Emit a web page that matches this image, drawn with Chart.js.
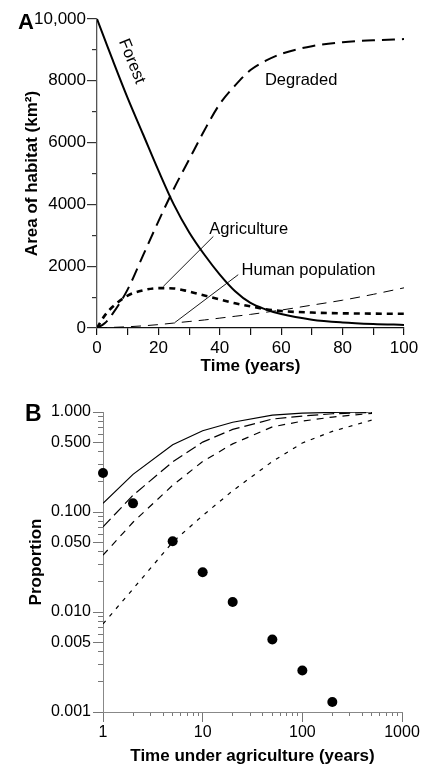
<!DOCTYPE html>
<html lang="en">
<head>
<meta charset="UTF-8">
<title>Habitat loss and agriculture</title>
<script src="https://cdn.jsdelivr.net/npm/chart.js"></script>
<style>
  body { margin: 0; background: #fff; }
  .wrap { position: relative; width: 423px; height: 765px; }
  .panel { position: absolute; left: 0; width: 423px; }
  #boxA { top: 0; height: 380px; }
  #boxB { top: 380px; height: 385px; }
  .tag { position: absolute; font-family: "Liberation Sans", Arial, sans-serif; font-weight: bold; }
</style>
</head>
<body>
<div class="wrap">
  <div class="panel" id="boxA"><canvas id="chartA"></canvas></div>
  <div class="panel" id="boxB"><canvas id="chartB"></canvas></div>
  <div class="tag" style="left:18px;top:11px;font-size:22px;line-height:22px">A</div>
  <div class="tag" style="left:25px;top:402px;font-size:23px;line-height:23px">B</div>
</div>
<script>
// ---- panel A data (years, km2) ----
const years       = [0, 2.5, 5, 10, 15, 20, 25, 30, 35, 40, 45, 50, 55, 60, 70, 80, 90, 100];
const forest      = [10000, 9350, 8700, 7440, 6270, 5100, 4000, 3100, 2370, 1730, 1190, 810, 600, 450, 270, 180, 130, 100];
const degraded    = [0, 150, 450, 1250, 2350, 3450, 4500, 5450, 6400, 7250, 7850, 8350, 8650, 8870, 9120, 9250, 9310, 9350];
const agriculture = [0, 400, 680, 1050, 1220, 1290, 1280, 1180, 1050, 920, 800, 700, 610, 550, 500, 475, 465, 460];
const humans      = [0, 10, 20, 40, 70, 110, 160, 210, 260, 320, 380, 440, 510, 580, 740, 900, 1090, 1300];

const xTicksA  = [0, 10, 20, 30, 40, 50, 60, 70, 80, 90, 100];
const xLabelsA = [0, 20, 40, 60, 80, 100];
const yTicksA  = [0, 2000, 4000, 6000, 8000, 10000];
const yMinorA  = [1000, 3000, 5000, 7000, 9000];

// text notes and leader lines, in data units
const notesA = [
  { text: 'Forest', x: 11.3, y: 8630, angle: 68 },
  { text: 'Degraded', x: 54.7, y: 7870 },
  { text: 'Agriculture', x: 36.6, y: 3050 },
  { text: 'Human population', x: 47.1, y: 1725 }
];
const leadersA = [
  [[21.6, 1346], [37.9, 2964]],
  [[25.4, 181], [46.0, 1725]]
];

// ---- panel B data (proportion vs time under agriculture) ----
const timeB    = [1, 2, 5, 10, 20, 50, 100, 200, 500];
const curve1   = [0.122, 0.238, 0.47, 0.65, 0.79, 0.93, 0.975, 0.99, 1.0];
const curve2   = [0.071, 0.147, 0.317, 0.5, 0.67, 0.85, 0.91, 0.96, 0.99];
const curve3   = [0.037, 0.079, 0.185, 0.32, 0.48, 0.71, 0.81, 0.89, 0.97];
const curve4   = [0.0076, 0.017, 0.05, 0.092, 0.163, 0.32, 0.49, 0.64, 0.83];
const dotTime  = [1, 2, 5, 10, 20, 50, 100, 200];
const dotValue = [0.245, 0.122, 0.051, 0.025, 0.0126, 0.0053, 0.0026, 0.00126];

const xTicksB = [1, 10, 100, 1000];
const xMinorB = [2, 3, 4, 5, 6, 7, 8, 9, 20, 30, 40, 50, 60, 70, 80, 90, 200, 300, 400, 500, 600, 700, 800, 900];
const yTicksB = [1, 0.5, 0.1, 0.05, 0.01, 0.005, 0.001];
const yMinorB = [0.9, 0.8, 0.7, 0.6, 0.4, 0.3, 0.2, 0.09, 0.08, 0.07, 0.06, 0.04, 0.03, 0.02,
                 0.009, 0.008, 0.007, 0.006, 0.004, 0.003, 0.002];

Chart.defaults.font.family = '"Liberation Sans", Arial, Helvetica, sans-serif';
Chart.defaults.color = '#000';
Chart.defaults.animation = false;

function pts(xs, ys) { return xs.map((x, i) => ({ x: x, y: ys[i] })); }
function fixTicks(list) { return s => { s.ticks = list.map(v => ({ value: v })); }; }

const titleFont = { size: 17, weight: 'bold' };

const notesPlugin = {
  id: 'notesA',
  afterDatasetsDraw(chart) {
    const { ctx } = chart;
    const x = chart.scales.x, y = chart.scales.y;
    ctx.save();
    ctx.strokeStyle = '#000';
    ctx.lineWidth = 0.9;
    leadersA.forEach(seg => {
      ctx.beginPath();
      ctx.moveTo(x.getPixelForValue(seg[0][0]), y.getPixelForValue(seg[0][1]));
      ctx.lineTo(x.getPixelForValue(seg[1][0]), y.getPixelForValue(seg[1][1]));
      ctx.stroke();
    });
    ctx.fillStyle = '#000';
    ctx.font = '16.5px "Liberation Sans", Arial, sans-serif';
    notesA.forEach(n => {
      ctx.save();
      ctx.translate(x.getPixelForValue(n.x), y.getPixelForValue(n.y));
      if (n.angle) {
        ctx.rotate(n.angle * Math.PI / 180);
        ctx.textAlign = 'center';
        ctx.textBaseline = 'middle';
      } else {
        ctx.textAlign = 'left';
        ctx.textBaseline = 'alphabetic';
      }
      ctx.fillText(n.text, 0, 0);
      ctx.restore();
    });
    ctx.restore();
  }
};

new Chart(document.getElementById('chartA'), {
  type: 'line',
  data: {
    datasets: [
      { data: pts(years, forest), borderColor: '#000', borderWidth: 2 },
      { data: pts(years, degraded), borderColor: '#000', borderWidth: 2, borderDash: [13, 7] },
      { data: pts(years, agriculture), borderColor: '#000', borderWidth: 2.6, borderDash: [6, 5] },
      { data: pts(years, humans), borderColor: '#000', borderWidth: 1, borderDash: [10, 7] }
    ]
  },
  options: {
    responsive: true,
    maintainAspectRatio: false,
    layout: { padding: { top: 19, right: 19, left: 0, bottom: 0 } },
    elements: { point: { radius: 0 }, line: { cubicInterpolationMode: 'monotone', fill: false } },
    plugins: { legend: { display: false }, tooltip: { enabled: false } },
    scales: {
      x: {
        type: 'linear', min: 0, max: 100, weight: 1,
        afterBuildTicks: fixTicks(xTicksA),
        afterFit: s => { s.height = 52; },
        ticks: { autoSkip: false, maxRotation: 0, padding: 3, font: { size: 17 },
                 callback: v => xLabelsA.includes(v) ? String(v) : '' },
        grid: { drawOnChartArea: false, tickLength: 7, color: '#111', lineWidth: 1.2 },
        border: { color: '#111', width: 1.3 },
        title: { display: true, text: 'Time (years)', font: titleFont, padding: { top: 0, bottom: 3 } }
      },
      y: {
        type: 'linear', position: 'left', min: 0, max: 10000, weight: 1,
        afterBuildTicks: fixTicks(yTicksA),
        afterFit: s => { s.width = 97; },
        ticks: { autoSkip: false, padding: 1, font: { size: 17 },
                 callback: v => v >= 10000 ? v.toLocaleString('en-US') : String(v) },
        grid: { drawOnChartArea: false, tickLength: 10, color: '#333', lineWidth: 1.2 },
        border: { color: '#555', width: 1.3 },
        title: { display: true, text: 'Area of habitat (km²)', font: titleFont, padding: { top: 22, bottom: 0 } }
      },
      y2: {
        type: 'linear', position: 'left', min: 0, max: 10000, weight: 0,
        afterBuildTicks: fixTicks(yMinorA),
        afterFit: s => { s.width = 0; },
        ticks: { display: false, autoSkip: false },
        grid: { drawOnChartArea: false, tickLength: 5, color: '#333', lineWidth: 1.2 },
        border: { display: false }
      }
    }
  },
  plugins: [notesPlugin]
});

new Chart(document.getElementById('chartB'), {
  type: 'line',
  data: {
    datasets: [
      { data: pts(timeB, curve1), borderColor: '#000', borderWidth: 1.2 },
      { data: pts(timeB, curve2), borderColor: '#000', borderWidth: 1.2, borderDash: [11, 5] },
      { data: pts(timeB, curve3), borderColor: '#000', borderWidth: 1.2, borderDash: [7, 6] },
      { data: pts(timeB, curve4), borderColor: '#000', borderWidth: 1.2, borderDash: [4, 6] },
      { data: pts(dotTime, dotValue), showLine: false, pointRadius: 5, pointBackgroundColor: '#000',
        pointBorderColor: '#000', pointBorderWidth: 0, clip: false }
    ]
  },
  options: {
    responsive: true,
    maintainAspectRatio: false,
    layout: { padding: { top: 32, right: 21, left: 0, bottom: 0 } },
    elements: { point: { radius: 0 }, line: { tension: 0, fill: false } },
    plugins: { legend: { display: false }, tooltip: { enabled: false } },
    scales: {
      x: {
        type: 'logarithmic', min: 1, max: 1000, weight: 1,
        afterBuildTicks: fixTicks(xTicksB),
        afterFit: s => { s.height = 53; },
        ticks: { autoSkip: false, maxRotation: 0, padding: 1, font: { size: 16 }, callback: v => String(v) },
        grid: { drawOnChartArea: false, tickLength: 10, color: '#777' },
        border: { color: '#888', width: 1 },
        title: { display: true, text: 'Time under agriculture (years)', font: titleFont, padding: { top: 0, bottom: -2 } }
      },
      x2: {
        type: 'logarithmic', position: 'bottom', min: 1, max: 1000, weight: 0,
        afterBuildTicks: fixTicks(xMinorB),
        afterFit: s => { s.height = 0; },
        ticks: { display: false, autoSkip: false },
        grid: { drawOnChartArea: false, tickLength: 4, color: '#777' },
        border: { display: false }
      },
      y: {
        type: 'logarithmic', position: 'left', min: 0.001, max: 1, weight: 1,
        afterBuildTicks: fixTicks(yTicksB),
        afterFit: s => { s.width = 103; },
        ticks: { autoSkip: false, padding: 2, font: { size: 16 }, callback: v => Number(v).toFixed(3) },
        grid: { drawOnChartArea: false, tickLength: 10, color: '#777' },
        border: { color: '#888', width: 1 },
        title: { display: true, text: 'Proportion', font: titleFont, padding: { top: 26, bottom: 0 } }
      },
      y2: {
        type: 'logarithmic', position: 'left', min: 0.001, max: 1, weight: 0,
        afterBuildTicks: fixTicks(yMinorB),
        afterFit: s => { s.width = 0; },
        ticks: { display: false, autoSkip: false },
        grid: { drawOnChartArea: false, tickLength: 5, color: '#777' },
        border: { display: false }
      }
    }
  }
});
</script>
</body>
</html>
